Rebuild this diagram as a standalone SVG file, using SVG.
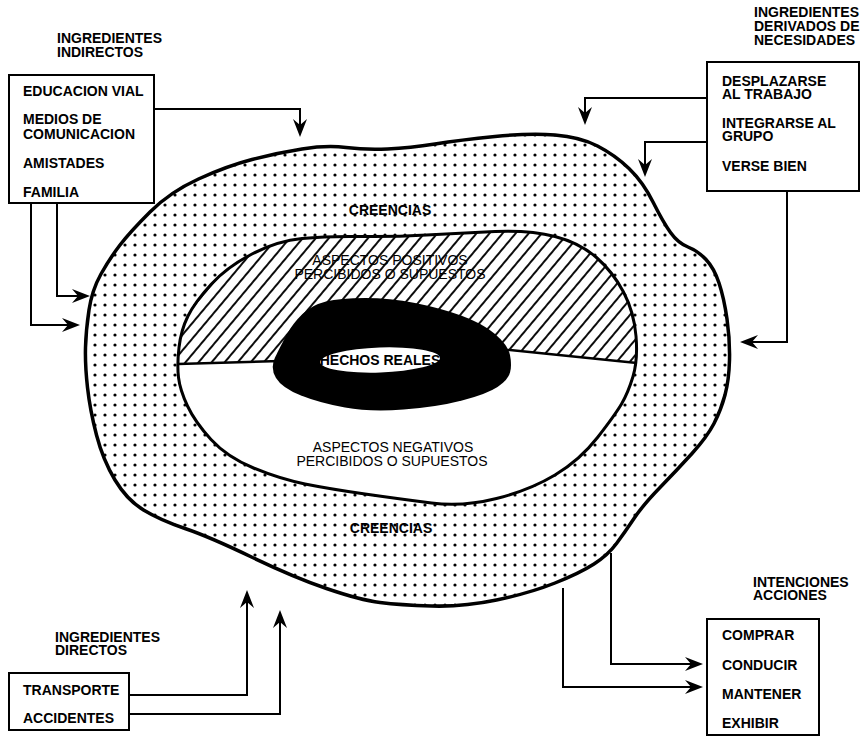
<svg xmlns="http://www.w3.org/2000/svg" width="866" height="740" viewBox="0 0 866 740">
<style>
.t{font-family:"Liberation Sans",Arial,sans-serif;font-size:14px;font-weight:bold;fill:#000}
.r{font-family:"Liberation Sans",Arial,sans-serif;font-size:14px;fill:#000}
.c{text-anchor:middle}
.box{fill:#fff;stroke:#000;stroke-width:2}
.con{fill:none;stroke:#000;stroke-width:2;marker-end:url(#ah)}
</style>
<defs>
<pattern id="dots" patternUnits="userSpaceOnUse" width="10" height="10">
<circle cx="5" cy="5" r="1.6" fill="#000"/>
</pattern>
<pattern id="hatch" patternUnits="userSpaceOnUse" width="10" height="20" patternTransform="rotate(40)">
<line x1="5" y1="-2" x2="5" y2="22" stroke="#000" stroke-width="1.9"/>
</pattern>
<marker id="ah" viewBox="-18 -8 19 16" refX="-4" refY="0" markerWidth="19" markerHeight="16" markerUnits="userSpaceOnUse" orient="auto">
<path d="M0,0 L-18,-7 L-12,0 L-18,7 Z" fill="#000"/>
</marker>
<clipPath id="ovalClip">
<path d="M178.5,377.5 Q177,365 179,347.5 Q181,330 188,316 Q195,302 211,284.5 Q227,267 252,254 Q277,241 302,238.5 Q327,236 360,236.5 Q393,237 426.5,235 Q460,233 495,231.5 Q530,230 555,236.5 Q580,243 596.5,257.5 Q613,272 623.5,292 Q634,312 636,336 Q638,360 633,376.5 Q628,393 621.5,404 Q615,415 597.5,437.5 Q580,460 555,475 Q530,490 496.5,498.5 Q463,507 431.5,503 Q400,499 365,494 Q330,489 305,484 Q280,479 253.5,468 Q227,457 211,439.5 Q195,422 187.5,406 Q180,390 178.5,377.5 Z"/>
</clipPath>
<clipPath id="upperClip">
<path d="M150,364 L280,361 L510,350 L660,365 L660,200 L150,200 Z"/>
</clipPath>
</defs>
<rect width="866" height="740" fill="#fff"/>

<g id="creencias">
<path d="M85.5,347.5 Q86,330 89,310 Q92,290 101,274 Q110,258 120,245 Q130,232 150,212 Q170,192 198.5,179 Q227,166 252,159.5 Q277,153 302,149 Q327,145 346,147.5 Q365,150 387.5,149 Q410,148 435,144 Q460,140 495,136.5 Q530,133 555,135 Q580,137 597.5,146 Q615,155 629,168.5 Q643,182 653,202 Q663,222 670.5,232.5 Q678,243 688,247 Q698,251 706,259.5 Q714,268 719,283 Q724,298 727,319 Q730,340 729.5,360 Q729,380 725,395 Q721,410 714,423.5 Q707,437 692,453.5 Q677,470 660,487.5 Q643,505 634,518.5 Q625,532 616.5,543.5 Q608,555 594,564 Q580,573 555,583 Q530,593 496.5,600 Q463,607 431.5,606 Q400,605 380,602.5 Q360,600 326.5,588.5 Q293,577 251.5,557 Q210,537 185,528.5 Q160,520 143.5,510 Q127,500 115,480 Q103,460 96.5,435 Q90,410 87.5,387.5 Q85,365 85.5,347.5 Z" fill="url(#dots)" stroke="#000" stroke-width="3.5"/>
<text class="t c" x="390" y="215" font-size="13">CREENCIAS</text>
<text class="t c" x="391" y="533" font-size="13">CREENCIAS</text>
</g>

<g id="aspectos">
<path d="M178.5,377.5 Q177,365 179,347.5 Q181,330 188,316 Q195,302 211,284.5 Q227,267 252,254 Q277,241 302,238.5 Q327,236 360,236.5 Q393,237 426.5,235 Q460,233 495,231.5 Q530,230 555,236.5 Q580,243 596.5,257.5 Q613,272 623.5,292 Q634,312 636,336 Q638,360 633,376.5 Q628,393 621.5,404 Q615,415 597.5,437.5 Q580,460 555,475 Q530,490 496.5,498.5 Q463,507 431.5,503 Q400,499 365,494 Q330,489 305,484 Q280,479 253.5,468 Q227,457 211,439.5 Q195,422 187.5,406 Q180,390 178.5,377.5 Z" fill="#fff"/>
<g clip-path="url(#ovalClip)">
<rect x="150" y="200" width="510" height="200" fill="url(#hatch)" clip-path="url(#upperClip)"/>
</g>
<path d="M178.5,377.5 Q177,365 179,347.5 Q181,330 188,316 Q195,302 211,284.5 Q227,267 252,254 Q277,241 302,238.5 Q327,236 360,236.5 Q393,237 426.5,235 Q460,233 495,231.5 Q530,230 555,236.5 Q580,243 596.5,257.5 Q613,272 623.5,292 Q634,312 636,336 Q638,360 633,376.5 Q628,393 621.5,404 Q615,415 597.5,437.5 Q580,460 555,475 Q530,490 496.5,498.5 Q463,507 431.5,503 Q400,499 365,494 Q330,489 305,484 Q280,479 253.5,468 Q227,457 211,439.5 Q195,422 187.5,406 Q180,390 178.5,377.5 Z" fill="none" stroke="#000" stroke-width="3"/>
<path d="M178,364 L280,361 L510,350 L637,363" fill="none" stroke="#000" stroke-width="2.5"/>
<text class="r c" x="390" y="265">ASPECTOS POSITIVOS</text>
<text class="r c" x="390" y="279">PERCIBIDOS O SUPUESTOS</text>
<text class="r c" x="393" y="452">ASPECTOS NEGATIVOS</text>
<text class="r c" x="392" y="466">PERCIBIDOS O SUPUESTOS</text>
</g>

<g id="hechos">
<path d="M276,378 Q270,368 275,357.5 Q280,347 286.5,335 Q293,323 302.5,314 Q312,305 326,301.5 Q340,298 365,298 Q390,298 415,303 Q440,308 461,315.5 Q482,323 495,334 Q508,345 510,355 Q512,365 510,372.5 Q508,380 497.5,387 Q487,394 462,400.5 Q437,407 403.5,409.5 Q370,412 345,407.5 Q320,403 301,395.5 Q282,388 276,378 Z" fill="#000"/>
<ellipse cx="380" cy="360" rx="60" ry="12.5" fill="#fff" transform="rotate(-2 380 360)"/>
<text class="t c" x="380" y="364.5" font-size="11">HECHOS REALES</text>
</g>

<g id="indirectos">
<text class="t" x="57" y="43">INGREDIENTES</text>
<text class="t" x="57" y="57">INDIRECTOS</text>
<rect class="box" x="9" y="75" width="145" height="128"/>
<text class="t" x="23" y="96">EDUCACION VIAL</text>
<text class="t" x="23" y="124">MEDIOS DE</text>
<text class="t" x="23" y="139">COMUNICACION</text>
<text class="t" x="23" y="168">AMISTADES</text>
<text class="t" x="23" y="197">FAMILIA</text>
</g>

<g id="necesidades">
<text class="t" x="754" y="17">INGREDIENTES</text>
<text class="t" x="754" y="31">DERIVADOS DE</text>
<text class="t" x="754" y="45">NECESIDADES</text>
<rect class="box" x="707" y="62" width="152" height="129"/>
<text class="t" x="722" y="86">DESPLAZARSE</text>
<text class="t" x="722" y="99">AL TRABAJO</text>
<text class="t" x="722" y="128">INTEGRARSE AL</text>
<text class="t" x="722" y="141">GRUPO</text>
<text class="t" x="722" y="171">VERSE BIEN</text>
</g>

<g id="directos">
<text class="t" x="55" y="642">INGREDIENTES</text>
<text class="t" x="55" y="655">DIRECTOS</text>
<rect class="box" x="9" y="673" width="120" height="57"/>
<text class="t" x="23" y="695">TRANSPORTE</text>
<text class="t" x="23" y="723">ACCIDENTES</text>
</g>

<g id="intenciones">
<text class="t" x="753" y="587">INTENCIONES</text>
<text class="t" x="753" y="600">ACCIONES</text>
<rect class="box" x="707" y="619" width="112" height="116"/>
<text class="t" x="722" y="640">COMPRAR</text>
<text class="t" x="722" y="670">CONDUCIR</text>
<text class="t" x="722" y="699">MANTENER</text>
<text class="t" x="722" y="728">EXHIBIR</text>
</g>

<g id="connectors">
<path class="con" d="M154,109 H300 V133"/>
<path class="con" d="M57,203 V296 H86"/>
<path class="con" d="M31,203 V325 H76"/>
<path class="con" d="M707,98 H585 V121"/>
<path class="con" d="M707,142 H645 V173"/>
<path class="con" d="M787,191 V342 H744"/>
<path class="con" d="M129,695 H247 V594"/>
<path class="con" d="M129,714 H280 V614"/>
<path class="con" d="M611,553 V664 H699"/>
<path class="con" d="M563,588 V687 H699"/>
</g>
</svg>
